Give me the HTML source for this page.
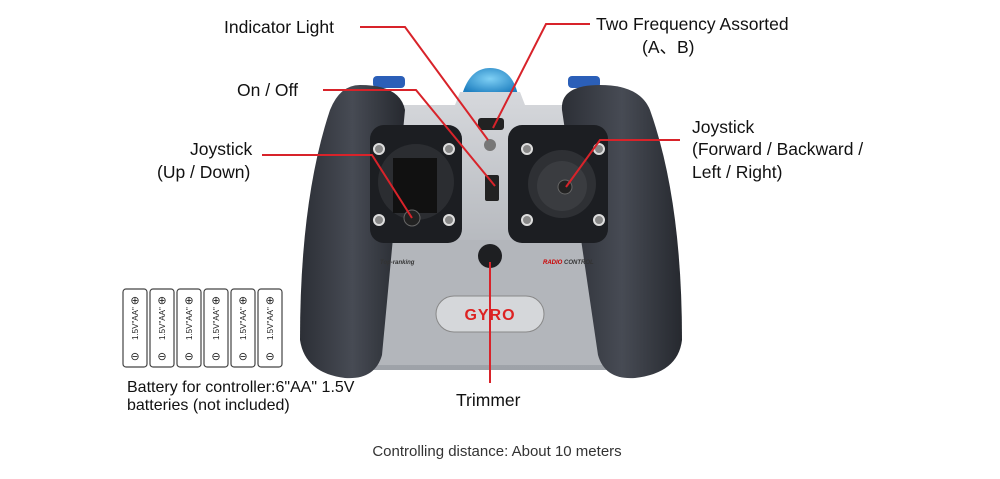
<!DOCTYPE html>
<html><head><meta charset="utf-8"><style>
body{margin:0;background:#fff;}
svg{display:block;font-family:"Liberation Sans",Arial,sans-serif;}
</style></head><body>
<svg width="1000" height="479" viewBox="0 0 1000 479" xmlns="http://www.w3.org/2000/svg">
<defs>
<linearGradient id="sil" x1="0" y1="0" x2="0" y2="1"><stop offset="0" stop-color="#d6d8dc"/><stop offset="0.5" stop-color="#b9bcc1"/><stop offset="1" stop-color="#9ea2a8"/></linearGradient>
<linearGradient id="grip" x1="0" y1="0" x2="1" y2="0"><stop offset="0" stop-color="#2c2f36"/><stop offset="0.5" stop-color="#474b54"/><stop offset="1" stop-color="#26292f"/></linearGradient>
<radialGradient id="blue" cx="0.5" cy="0.4" r="0.6"><stop offset="0" stop-color="#7fd0f5"/><stop offset="1" stop-color="#1e7fc0"/></radialGradient>
</defs>
<rect x="373" y="76" width="32" height="12" rx="4" fill="#2b5fb8"/>
<rect x="568" y="76" width="32" height="12" rx="4" fill="#2b5fb8"/>
<path d="M462 95 Q470 68 490 68 Q512 68 518 95 Z" fill="url(#blue)"/>
<path d="M370 105 L455 105 L460 92 L520 92 L525 105 L610 105 L625 370 L360 370 Z" fill="url(#sil)"/>
<rect x="372" y="240" width="248" height="125" fill="#b3b6bb"/>
<path d="M360 85 Q400 85 405 110 L382 355 Q375 380 345 378 Q305 373 300 340 Q300 200 330 110 Q340 85 360 85 Z" fill="url(#grip)"/>
<path d="M600 85 Q560 85 562 110 L598 355 Q605 380 635 378 Q678 373 682 340 Q682 200 650 110 Q640 85 600 85 Z" fill="url(#grip)"/>
<rect x="370" y="125" width="92" height="118" rx="14" fill="#1c1e22"/>
<rect x="508" y="125" width="100" height="118" rx="14" fill="#1c1e22"/>
<circle cx="416" cy="182" r="38" fill="#2b2d31"/>
<circle cx="562" cy="184" r="34" fill="#2e3034"/>
<circle cx="562" cy="186" r="25" fill="#3a3c40"/>
<rect x="393" y="158" width="44" height="55" fill="#111"/>
<circle cx="412" cy="218" r="8" fill="#222" stroke="#666"/>
<circle cx="565" cy="187" r="7" fill="#222" stroke="#666"/>
<g fill="#888" stroke="#ddd" stroke-width="2">
<circle cx="379" cy="149" r="5"/><circle cx="449" cy="149" r="5"/><circle cx="379" cy="220" r="5"/><circle cx="449" cy="220" r="5"/>
<circle cx="527" cy="149" r="5"/><circle cx="599" cy="149" r="5"/><circle cx="527" cy="220" r="5"/><circle cx="599" cy="220" r="5"/>
</g>
<rect x="478" y="118" width="26" height="12" rx="3" fill="#222"/>
<circle cx="490" cy="145" r="6" fill="#777"/>
<rect x="485" y="175" width="14" height="26" rx="2" fill="#222"/>
<circle cx="490" cy="256" r="12" fill="#1e1f22"/>
<text x="380" y="264" font-size="6" font-style="italic" font-weight="bold" fill="#333">Top-ranking</text>
<text x="543" y="264" font-size="6" font-style="italic" font-weight="bold" fill="#c00">RADIO <tspan fill="#333">CONTROL</tspan></text>
<rect x="436" y="296" width="108" height="36" rx="18" fill="#d5d7da" stroke="#888"/>
<text x="490" y="320" font-size="16" font-weight="bold" fill="#d22" text-anchor="middle" letter-spacing="1">GYRO</text>
<g fill="#fff" stroke="#444" stroke-width="1.2">
<rect x="123" y="289" width="24" height="78" rx="3"/><rect x="150" y="289" width="24" height="78" rx="3"/><rect x="177" y="289" width="24" height="78" rx="3"/><rect x="204" y="289" width="24" height="78" rx="3"/><rect x="231" y="289" width="24" height="78" rx="3"/><rect x="258" y="289" width="24" height="78" rx="3"/>
</g>
<g font-size="8" fill="#222">
<text transform="translate(138,340) rotate(-90)">1.5V"AA"</text><text transform="translate(165,340) rotate(-90)">1.5V"AA"</text><text transform="translate(192,340) rotate(-90)">1.5V"AA"</text><text transform="translate(219,340) rotate(-90)">1.5V"AA"</text><text transform="translate(246,340) rotate(-90)">1.5V"AA"</text><text transform="translate(273,340) rotate(-90)">1.5V"AA"</text>
</g>
<g font-size="11" fill="#222" text-anchor="middle">
<text x="135" y="304">⊕</text><text x="162" y="304">⊕</text><text x="189" y="304">⊕</text><text x="216" y="304">⊕</text><text x="243" y="304">⊕</text><text x="270" y="304">⊕</text>
<text x="135" y="360">⊖</text><text x="162" y="360">⊖</text><text x="189" y="360">⊖</text><text x="216" y="360">⊖</text><text x="243" y="360">⊖</text><text x="270" y="360">⊖</text>
</g>
<g stroke="#d8232a" stroke-width="2" fill="none">
<polyline points="360,27 405,27 488,140"/>
<polyline points="590,24 546,24 493,128"/>
<polyline points="323,90 416,90 495,186"/>
<polyline points="262,155 372,155 412,218"/>
<polyline points="680,140 600,140 566,187"/>
<line x1="490" y1="262" x2="490" y2="383"/>
</g>
<g font-size="17.5" fill="#111">
<text x="224" y="33">Indicator Light</text>
<text x="596" y="30">Two Frequency Assorted</text>
<text x="642" y="53">(A、B)</text>
<text x="237" y="96">On / Off</text>
<text x="190" y="155">Joystick</text>
<text x="157" y="178">(Up / Down)</text>
<text x="692" y="133">Joystick</text>
<text x="692" y="155">(Forward / Backward /</text>
<text x="692" y="178">Left / Right)</text>
<text x="456" y="406">Trimmer</text>
</g>
<g font-size="16" fill="#111">
<text x="127" y="392">Battery for controller:6"AA" 1.5V</text>
<text x="127" y="410">batteries (not included)</text>
</g>
<text x="497" y="456" font-size="15" fill="#333" text-anchor="middle">Controlling distance: About 10 meters</text>
</svg>
</body></html>
